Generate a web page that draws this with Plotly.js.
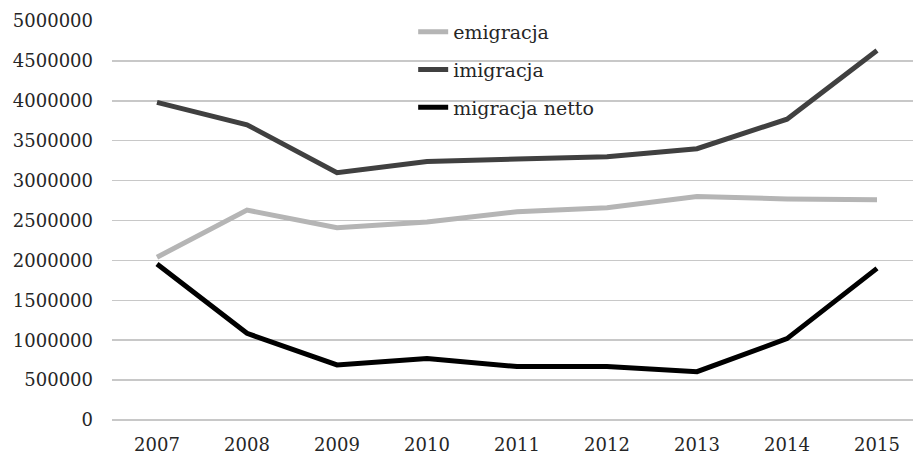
<!DOCTYPE html>
<html>
<head>
<meta charset="utf-8">
<script src="https://cdn.plot.ly/plotly-3.0.1.min.js"></script>
<style>html,body{margin:0;padding:0;background:#fff;}#chart{width:913px;height:458px;}</style>
</head>
<body>
<div id="chart"></div>
<script>
const years = ['2007','2008','2009','2010','2011','2012','2013','2014','2015'];
const emigracja = [2040000, 2630000, 2410000, 2480000, 2610000, 2660000, 2800000, 2770000, 2760000];
const imigracja = [3980000, 3700000, 3100000, 3240000, 3270000, 3300000, 3400000, 3770000, 4630000];
const migracjaNetto = [1955000, 1086000, 690000, 770000, 670000, 670000, 605000, 1020000, 1900000];
const yTicks = [0, 500000, 1000000, 1500000, 2000000, 2500000, 3000000, 3500000, 4000000, 4500000, 5000000];

const font = {family: 'DejaVu Serif', size: 18, color: '#262626'};
const legendFont = {family: 'DejaVu Serif', size: 19, color: '#262626'};

const traces = [
  {name: 'emigracja', x: years, y: emigracja, type: 'scatter', mode: 'lines', line: {color: '#b5b5b5', width: 5}, legendgroup: 'a'},
  {name: 'imigracja', x: years, y: imigracja, type: 'scatter', mode: 'lines', line: {color: '#404040', width: 5}, legendgroup: 'b'},
  {name: 'migracja netto', x: years, y: migracjaNetto, type: 'scatter', mode: 'lines', line: {color: '#000000', width: 5}, legendgroup: 'c'}
];

const layout = {
  width: 913, height: 458,
  margin: {l: 112, r: 0, t: 21, b: 38, autoexpand: false},
  paper_bgcolor: '#fff', plot_bgcolor: '#fff',
  font: font,
  showlegend: true,
  legend: {x: 0.376, xanchor: 'left', y: 1.02, yanchor: 'top', bgcolor: 'rgba(0,0,0,0)', font: legendFont, tracegroupgap: 10},
  xaxis: {
    type: 'category', range: [-0.5, 8.4], showgrid: false, zeroline: false, showline: false,
    ticks: '', tickfont: font, ticklabelstandoff: 12, automargin: false, fixedrange: true
  },
  yaxis: {
    range: [0, 5000000], tickvals: yTicks, ticktext: yTicks.map(String),
    showgrid: true, gridcolor: '#c8c8c8', gridwidth: 1.5,
    zeroline: true, zerolinecolor: '#c8c8c8', zerolinewidth: 1.5, showline: false,
    ticks: '', tickfont: font, ticklabelstandoff: 18, automargin: false, fixedrange: true
  }
};

Plotly.newPlot('chart', traces, layout, {displayModeBar: false, staticPlot: true});
</script>
</body>
</html>
